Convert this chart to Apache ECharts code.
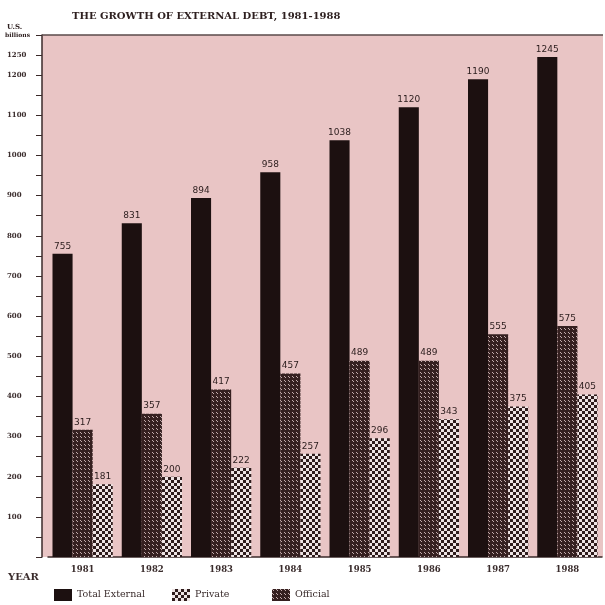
<!DOCTYPE html>
<html>
<head>
<meta charset="utf-8">
<script src="https://cdn.jsdelivr.net/npm/echarts@6/dist/echarts.min.js"></script>
<style>
  html, body { margin: 0; padding: 0; background: #ffffff; }
  #chart { width: 605px; height: 605px; }
</style>
</head>
<body>
<div id="chart"></div>
<script>
// External debt, 1981-1988 (U.S. $ billions)
const years = ['1981', '1982', '1983', '1984', '1985', '1986', '1987', '1988'];
const totalExternal = [755, 831, 894, 958, 1038, 1120, 1190, 1245];
const officialDebt = [317, 357, 417, 457, 489, 489, 555, 575];
const privateDebt = [181, 200, 222, 257, 296, 343, 375, 405];
const yTickLabels = [100, 200, 300, 400, 500, 600, 700, 800, 900, 1000, 1100, 1200, 1250];

// Halftone fills for the two component series
function makePattern(size, cell, dark, light) {
  const c = document.createElement('canvas');
  c.width = size; c.height = size;
  const ctx = c.getContext('2d');
  ctx.fillStyle = dark;
  ctx.fillRect(0, 0, size, size);
  ctx.fillStyle = light;
  ctx.fillRect(0, 0, cell, cell);
  ctx.fillRect(cell, cell, cell, cell);
  return c;
}
const finePattern = makePattern(4, 1, '#352020', '#c4adad');
const coarsePattern = makePattern(6, 3, '#2e1c1c', '#eee4e4');

const serif = '"DejaVu Serif", "Liberation Serif", serif';
const sans = '"DejaVu Sans", "Liberation Sans", sans-serif';
const ink = '#2e2020';

const chart = echarts.init(document.getElementById('chart'), null, { renderer: 'canvas' });

const labelStyle = {
  show: true,
  position: 'top',
  distance: 3,
  fontFamily: sans,
  fontSize: 9,
  color: '#2a1c1c'
};

const legendText = { fontFamily: serif, fontSize: 9.5, color: '#3a2c2c' };
function legendAt(left, name) {
  return {
    left: left, top: 589,
    padding: 0,
    icon: 'rect',
    itemWidth: 18, itemHeight: 12,
    itemGap: 4,
    textStyle: legendText,
    data: [name]
  };
}

chart.setOption({
  animation: false,
  backgroundColor: '#ffffff',
  grid: { left: 48, right: 3, top: 35, bottom: 48, containLabel: false },
  graphic: [
    {
      type: 'rect', z: -10, silent: true,
      shape: { x: 42, y: 35, width: 561, height: 522 },
      style: { fill: '#e9c5c5' }
    },
    {
      type: 'line', z: 10, silent: true,
      shape: { x1: 42, y1: 35, x2: 603, y2: 35 },
      style: { stroke: '#5a4a4a', lineWidth: 1.5 }
    },
    {
      type: 'text', left: 72, top: 11,
      style: { text: 'THE GROWTH OF EXTERNAL DEBT, 1981-1988', font: 'bold 10px ' + serif, fill: ink }
    },
    {
      type: 'text', left: 7, top: 24,
      style: { text: 'U.S.', font: 'bold 7px ' + serif, fill: ink }
    },
    {
      type: 'text', left: 5, top: 32,
      style: { text: 'billions', font: 'bold 6px ' + serif, fill: ink }
    },
    {
      type: 'text', left: 8, top: 572,
      style: { text: 'YEAR', font: 'bold 10px ' + serif, fill: '#3a2c2c' }
    }
  ],
  legend: [
    legendAt(54, 'Total External'),
    legendAt(172, 'Private'),
    legendAt(272, 'Official')
  ],
  xAxis: {
    type: 'category',
    data: years,
    axisLine: { show: true, lineStyle: { color: '#3a2a2a', width: 1.5 } },
    axisTick: { show: false },
    axisLabel: { fontFamily: serif, fontSize: 8.5, fontWeight: 'bold', color: '#3a2c2c', margin: 8 }
  },
  yAxis: {
    type: 'value',
    min: 0, max: 1300, interval: 50,
    offset: 6,
    axisLine: { show: true, lineStyle: { color: '#3a2a2a', width: 1.5 } },
    axisTick: { show: true, length: 6, lineStyle: { color: '#3a2a2a' } },
    splitLine: { show: false },
    axisLabel: {
      fontFamily: serif, fontSize: 7, fontWeight: 'bold', color: '#3a2c2c',
      align: 'left', margin: 35,
      formatter: v => (yTickLabels.includes(v) ? String(v) : '')
    }
  },
  series: [
    {
      name: 'Total External', type: 'bar',
      data: totalExternal,
      barGap: '0%', barCategoryGap: '13%',
      itemStyle: { color: '#1c1010' },
      label: labelStyle
    },
    {
      name: 'Official', type: 'bar',
      data: officialDebt,
      barGap: '0%', barCategoryGap: '13%',
      itemStyle: { color: { image: finePattern, repeat: 'repeat' } },
      label: labelStyle
    },
    {
      name: 'Private', type: 'bar',
      data: privateDebt,
      barGap: '0%', barCategoryGap: '13%',
      itemStyle: { color: { image: coarsePattern, repeat: 'repeat' } },
      label: labelStyle
    }
  ]
});
</script>
</body>
</html>
